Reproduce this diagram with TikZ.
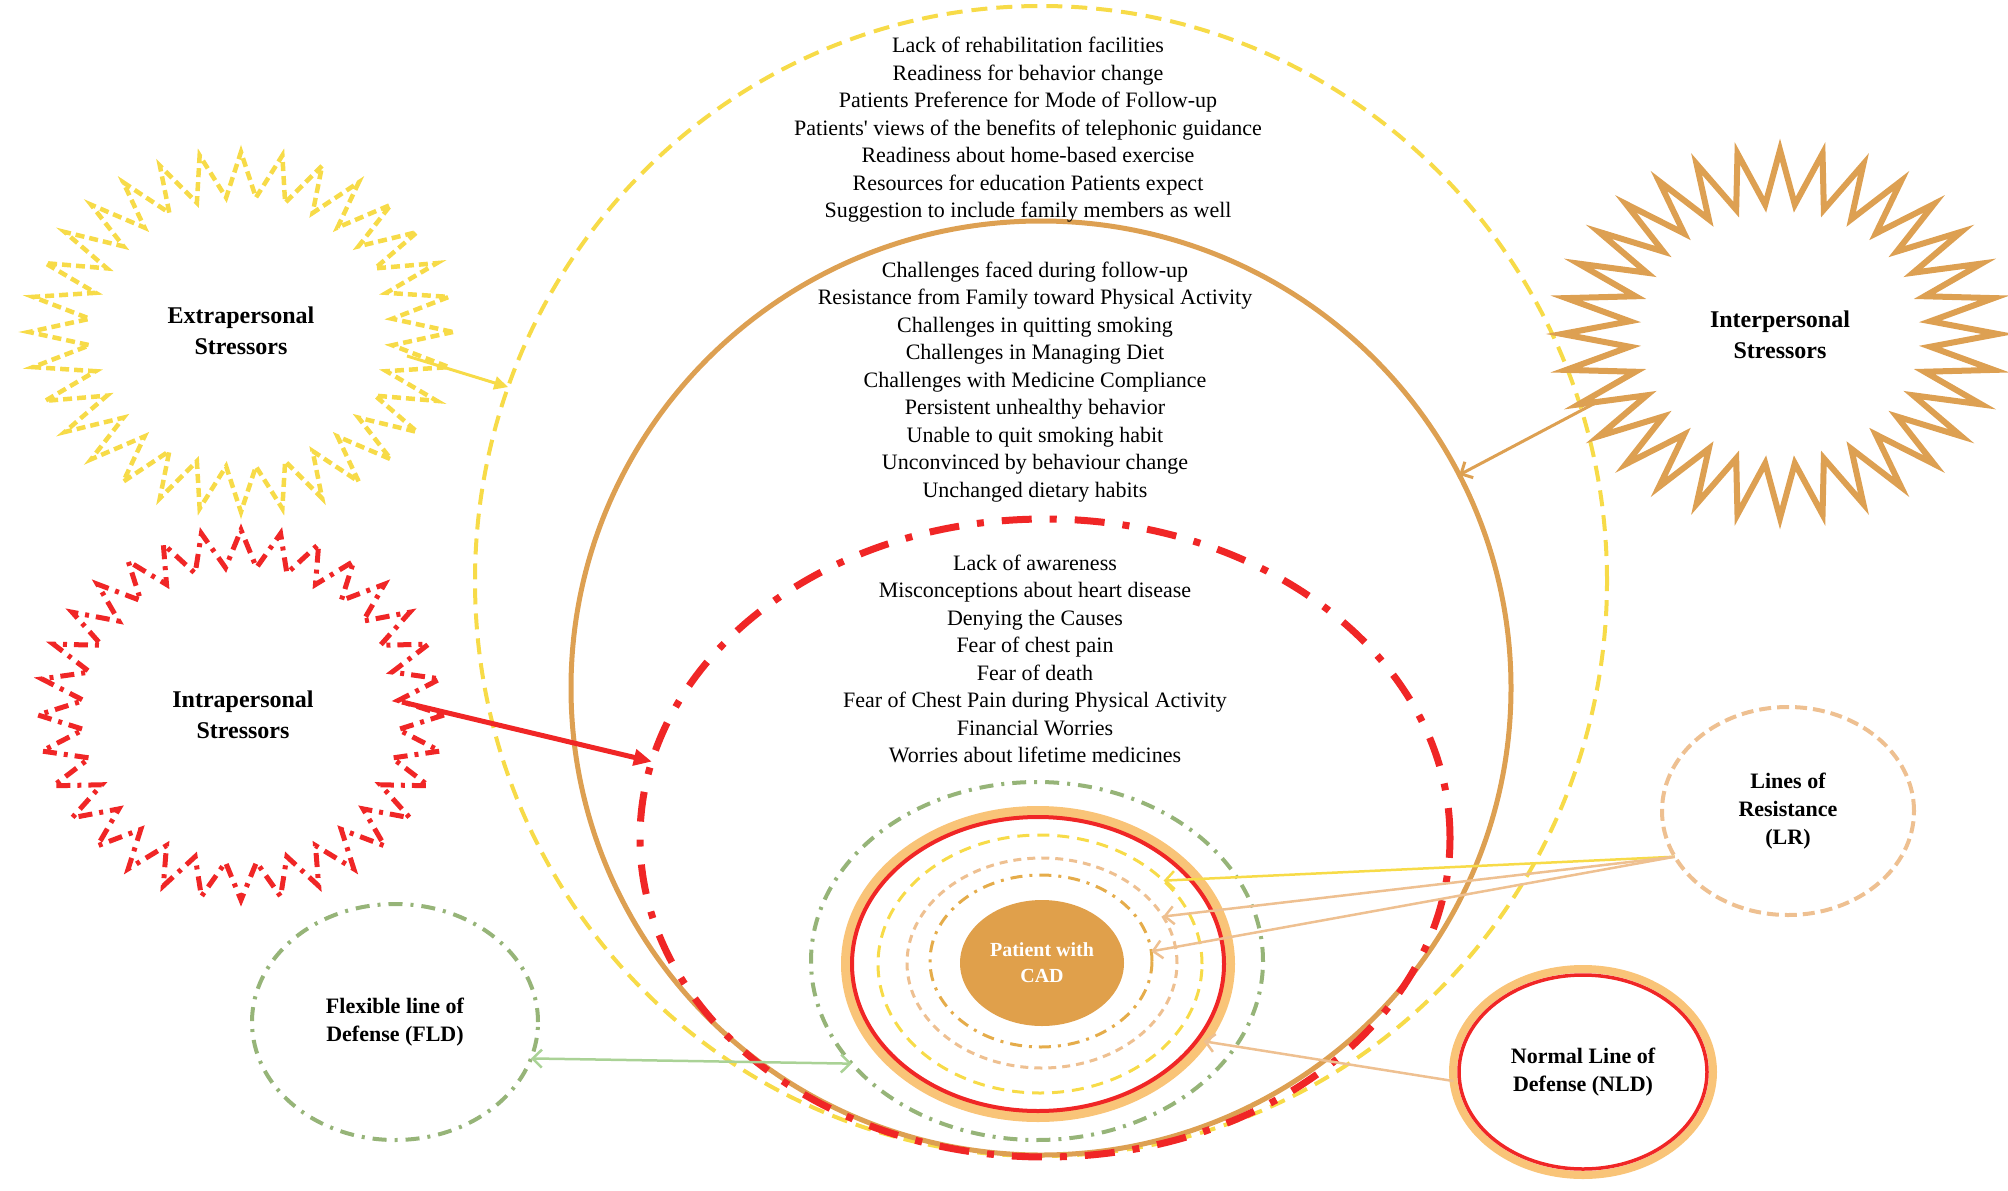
\documentclass[tikz,border=0pt]{standalone}
\usepackage{fontspec}
\setmainfont{Liberation Serif}
\usetikzlibrary{shapes.geometric,arrows.meta}

\definecolor{yellowline}{RGB}{247,219,72}
\definecolor{brownline}{RGB}{221,160,82}
\definecolor{redline}{RGB}{240,38,38}
\definecolor{tanline}{RGB}{238,192,145}
\definecolor{orangering}{RGB}{249,196,120}
\definecolor{greenline}{RGB}{150,180,120}
\definecolor{greenarrow}{RGB}{170,210,150}
\definecolor{patientfill}{RGB}{224,160,75}

\begin{document}
\begin{tikzpicture}[x=1pt,y=-1pt,
    ring/.style={ellipse, inner sep=0pt, outer sep=0pt},
    itemtext/.style={align=center, font=\fontsize{22}{27.5}\selectfont},
    stresstext/.style={align=center, font=\bfseries\fontsize{24}{31}\selectfont},
    linetext/.style={align=center, font=\bfseries\fontsize{22}{28}\selectfont},
    thinarrow/.style={line width=2.5pt, -{Straight Barb[length=9pt,width=18pt]}}]

    \useasboundingbox (0,0) rectangle (2008,1191);

    % Stressor zones
    \node[ring, draw=yellowline, line width=4pt, dash pattern=on 16pt off 9pt,
          minimum width=1132pt, minimum height=1150pt] (extrazone) at (1041,581) {};
    \node[ring, draw=brownline, line width=5pt,
          minimum width=940pt, minimum height=934pt] (interzone) at (1041,688) {};
    \node[ring, draw=redline, line width=7pt, dash pattern=on 30pt off 18pt on 7pt off 18pt,
          minimum width=810pt, minimum height=638pt] (intrazone) at (1045,838) {};

    % Zone items
    \node[itemtext] (extraitems) at (1028,130) {Lack of rehabilitation facilities\\
        Readiness for behavior change\\
        Patients Preference for Mode of Follow-up\\
        Patients\textquotesingle{} views of the benefits of telephonic guidance\\
        Readiness about home-based exercise\\
        Resources for education Patients expect\\
        Suggestion to include family members as well};
    \node[itemtext] (interitems) at (1035,382) {Challenges faced during follow-up\\
        Resistance from Family toward Physical Activity\\
        Challenges in quitting smoking\\
        Challenges in Managing Diet\\
        Challenges with Medicine Compliance\\
        Persistent unhealthy behavior\\
        Unable to quit smoking habit\\
        Unconvinced by behaviour change\\
        Unchanged dietary habits};
    \node[itemtext] (intraitems) at (1035,659) {Lack of awareness\\
        Misconceptions about heart disease\\
        Denying the Causes\\
        Fear of chest pain\\
        Fear of death\\
        Fear of Chest Pain during Physical Activity\\
        Financial Worries\\
        Worries about lifetime medicines};

    % Lines of defense and resistance
    \node[ring, draw=greenline, line width=4pt, dash pattern=on 14pt off 8pt on 3pt off 8pt,
          minimum width=452pt, minimum height=358pt] (flexring) at (1037,961) {};
    \node[ring, draw=orangering, line width=10pt,
          minimum width=384pt, minimum height=306pt] (normring) at (1038,964) {};
    \node[ring, draw=redline, line width=4pt,
          minimum width=372pt, minimum height=294pt] (normred) at (1038,964) {};
    \node[ring, draw=yellowline, line width=3pt, dash pattern=on 12pt off 8pt,
          minimum width=324pt, minimum height=258pt] (lrA) at (1040,964) {};
    \node[ring, draw=tanline, line width=3pt, dash pattern=on 8pt off 6pt,
          minimum width=270pt, minimum height=210pt] (lrB) at (1042,963) {};
    \node[ring, draw=patientfill!80!yellowline, line width=3pt, dash pattern=on 12pt off 7pt on 3pt off 7pt,
          minimum width=222pt, minimum height=172pt] (lrC) at (1041,961) {};
    \node[ring, fill=patientfill, minimum width=164pt, minimum height=126pt] (patient) at (1042,963) {};
    \node[align=center, text=white, font=\bfseries\fontsize{20}{26}\selectfont] at (patient) {Patient with\\CAD};

    % Extrapersonal stressors
    \draw[draw=yellowline, line width=4.5pt, dash pattern=on 9pt off 5pt]
      (453,332) \foreach \k in {0,...,31} {
        -- ({241+152*cos(\k*11.25+5.625)},{332+135*sin(\k*11.25+5.625)})
        -- ({241+212*cos((\k+1)*11.25)},{332+180*sin((\k+1)*11.25)}) } -- cycle;
    \node[stresstext] (extra) at (241,331) {Extrapersonal\\Stressors};

    % Interpersonal stressors
    \draw[draw=brownline, line width=6pt, line join=miter]
      (1998,334) \foreach \k in {0,...,31} {
        -- ({1780+151*cos(\k*11.25+5.625)},{334+130*sin(\k*11.25+5.625)})
        -- ({1780+218*cos((\k+1)*11.25)},{334+184*sin((\k+1)*11.25)}) } -- cycle;
    \node[stresstext] (inter) at (1780,335) {Interpersonal\\Stressors};

    % Intrapersonal stressors
    \draw[draw=redline, line width=5pt, dash pattern=on 14pt off 7pt on 4pt off 7pt]
      (444,715) \foreach \k in {0,...,31} {
        -- ({241+158*cos(\k*11.25+5.625)},{715+148*sin(\k*11.25+5.625)})
        -- ({241+203*cos((\k+1)*11.25)},{715+185*sin((\k+1)*11.25)}) } -- cycle;
    \node[stresstext] (intra) at (243,715) {Intrapersonal\\Stressors};

    % Legend circles
    \node[ring, draw=greenline, line width=4pt, dash pattern=on 14pt off 8pt on 3pt off 8pt,
          minimum width=286pt, minimum height=236pt] (fld) at (395,1022) {};
    \node[linetext] at (fld) {Flexible line of\\Defense (FLD)};
    \node[ring, draw=orangering, line width=8pt,
          minimum width=260pt, minimum height=206pt] (nld) at (1583,1072) {};
    \node[ring, draw=redline, line width=3.5pt,
          minimum width=248pt, minimum height=194pt] (nldred) at (1583,1072) {};
    \node[linetext] at (nld) {Normal Line of\\Defense (NLD)};
    \node[ring, draw=tanline, line width=4pt, dash pattern=on 12pt off 6pt,
          minimum width=252pt, minimum height=208pt] (lr) at (1788,811) {};
    \node[linetext] at (lr) {Lines of\\Resistance\\(LR)};

    % Arrows
    \coordinate (extraout) at (407,356);
    \coordinate (interout) at (1601,400);
    \coordinate (intraout) at (402,702);
    \draw[yellowline, line width=3pt, -{Triangle[length=14pt,width=13pt]}] (extraout) -- (extrazone.160);
    \draw[brownline, thinarrow, line width=3pt] (interout) -- (interzone.27);
    \draw[redline, line width=5pt, -{Triangle[length=18pt,width=16pt]}] (intraout) -- (intrazone.169);
    \draw[greenarrow, thinarrow, {Straight Barb[length=9pt,width=18pt]}-{Straight Barb[length=9pt,width=18pt]}] (fld.-15) -- (flexring.209);
    \draw[tanline, thinarrow] (nld.184) -- (normring.-25);
    \draw[yellowline, thinarrow] (lr.202) -- (lrA.34);
    \draw[tanline, thinarrow] (lr.202) -- (lrB.21);
    \draw[tanline, thinarrow] (lr.202) -- (lrC.5);

\end{tikzpicture}
\end{document}
